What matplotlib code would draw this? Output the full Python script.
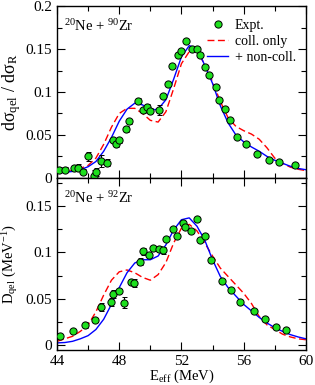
import numpy as np
import matplotlib
matplotlib.use("Agg")
import matplotlib.pyplot as plt
from matplotlib.lines import Line2D
from matplotlib.ticker import MultipleLocator, FuncFormatter

plt.rcParams["font.family"] = ["Liberation Serif", "DejaVu Serif"]
plt.rcParams["mathtext.fontset"] = "custom"
plt.rcParams["mathtext.rm"] = "Liberation Serif"
plt.rcParams["mathtext.it"] = "Liberation Serif:italic"

# %% data: 20Ne + 90Zr (quasi-elastic ratio)
e_90 = [44.15, 44.5, 45.1, 45.35, 45.7, 46.0, 46.35, 46.5, 46.84, 47.2, 47.57, 47.8,
        48.0, 48.43, 48.65, 49.2, 49.5, 49.8, 49.98, 50.58, 50.8, 51.16, 51.37, 51.8,
        52.0, 52.3, 52.65, 53.0, 53.2, 53.5, 53.8, 54.2, 54.4, 54.77, 55.14, 55.6,
        56.17, 56.88, 57.6, 58.28, 59.3]
sig_90 = [0.0097, 0.0097, 0.0116, 0.0116, 0.007, 0.025, 0.0027, 0.007, 0.020, 0.0178,
          0.044, 0.040, 0.044, 0.057, 0.066, 0.090, 0.079, 0.083, 0.078, 0.079, 0.095,
          0.109, 0.130, 0.143, 0.148, 0.159, 0.150, 0.150, 0.143, 0.129, 0.120, 0.106,
          0.091, 0.080, 0.067, 0.048, 0.039, 0.028, 0.021, 0.019, 0.015]
err_90 = [0.003, 0.003, 0.003, 0.004, 0.003, 0.005, 0.006, 0.005, 0.007, 0.004,
          0.003, 0.004, 0.003, 0.003, 0.003, 0.003, 0.003, 0.003, 0.003, 0.006, 0.002,
          0.002, 0.002, 0.002, 0.002, 0.002, 0.002, 0.002, 0.002, 0.002, 0.002, 0.002,
          0.002, 0.002, 0.002, 0.002, 0.002, 0.002, 0.002, 0.002, 0.002]

e_th = np.arange(44.0, 60.01, 0.5)
coll_90 = [0.006, 0.007, 0.0085, 0.011, 0.0145, 0.023, 0.039, 0.059, 0.075, 0.081,
           0.081, 0.075, 0.067, 0.065, 0.077, 0.104, 0.133, 0.147, 0.148, 0.132, 0.112,
           0.089, 0.070, 0.060, 0.055, 0.051, 0.045, 0.035, 0.023, 0.017, 0.0125, 0.010,
           0.0085]
full_90 = [0.0058, 0.0065, 0.0075, 0.0095, 0.013, 0.019, 0.031, 0.047, 0.066, 0.080,
           0.087, 0.085, 0.079, 0.080, 0.091, 0.115, 0.141, 0.154, 0.151, 0.131, 0.110,
           0.084, 0.064, 0.050, 0.042, 0.036, 0.031, 0.025, 0.0205, 0.017, 0.0135, 0.011,
           0.0095]

# %% data: 20Ne + 92Zr (barrier distribution)
e_92 = [44.2, 45.03, 45.8, 46.43, 46.8, 47.46, 47.6, 47.98, 48.28, 48.75, 48.92, 49.35,
        49.55, 49.9, 50.2, 50.54, 50.84, 51.0, 51.44, 51.72, 52.08, 52.24, 52.62, 52.99,
        53.2, 53.5, 53.9, 54.6, 55.2, 55.74, 56.66, 57.35, 58.1, 58.75]
d_92 = [0.0097, 0.0158, 0.022, 0.027, 0.041, 0.0466, 0.055, 0.058, 0.046, 0.0685,
        0.067, 0.090, 0.101, 0.097, 0.105, 0.1036, 0.102, 0.114, 0.125, 0.117, 0.132,
        0.127, 0.123, 0.136, 0.113, 0.117, 0.092, 0.069, 0.059, 0.047, 0.037, 0.028,
        0.020, 0.016]
err_92 = [0.002, 0.002, 0.003, 0.002, 0.004, 0.004, 0.004, 0.002, 0.006, 0.003,
          0.004, 0.004, 0.004, 0.002, 0.002, 0.003, 0.004, 0.002, 0.002, 0.002, 0.002,
          0.002, 0.002, 0.002, 0.002, 0.002, 0.002, 0.002, 0.002, 0.002, 0.002, 0.002,
          0.002, 0.002]

coll_92 = [0.0043, 0.007, 0.0097, 0.015, 0.022, 0.036, 0.054, 0.070, 0.079, 0.081,
           0.078, 0.073, 0.070, 0.076, 0.089, 0.110, 0.126, 0.130, 0.123, 0.110, 0.096,
           0.083, 0.074, 0.065, 0.056, 0.045, 0.031, 0.022, 0.017, 0.012, 0.009, 0.007,
           0.006]
full_92 = [0.0026, 0.003, 0.0043, 0.007, 0.0104, 0.017, 0.028, 0.044, 0.062, 0.078,
           0.0885, 0.092, 0.092, 0.096, 0.108, 0.124, 0.135, 0.137, 0.128, 0.113, 0.092,
           0.074, 0.062, 0.053, 0.044, 0.037, 0.030, 0.024, 0.019, 0.015, 0.0115, 0.009,
           0.007]

# %% plot
fig = plt.figure(figsize=(3.15, 3.85), dpi=100)
ax1 = fig.add_axes([0.181, 0.538, 0.79, 0.446])
ax2 = fig.add_axes([0.181, 0.091, 0.79, 0.447])

green = "#1ee01e"
mk = dict(fmt="o", ms=5.2, mfc=green, mec="black", mew=0.7, ecolor="black",
          elinewidth=0.8, capsize=1.8, capthick=0.8, zorder=3)

for ax, e, v, err, coll, full in [(ax1, e_90, sig_90, err_90, coll_90, full_90),
                                   (ax2, e_92, d_92, err_92, coll_92, full_92)]:
    ax.errorbar(e, v, yerr=err, **mk)
    ax.plot(e_th, coll, color="red", ls=(0, (5, 2.5)), lw=1.0)
    ax.plot(e_th, full, color="blue", lw=1.0)
    ax.set_xlim(44, 60)
    ax.xaxis.set_major_locator(MultipleLocator(4))
    ax.xaxis.set_minor_locator(MultipleLocator(2))
    ax.yaxis.set_major_locator(MultipleLocator(0.05))
    ax.yaxis.set_minor_locator(MultipleLocator(0.025))
    ax.yaxis.set_major_formatter(FuncFormatter(lambda y, p: "%g" % round(y, 3)))
    ax.tick_params(which="both", direction="in", top=True, right=True, labelsize=11)
    ax.tick_params(which="major", length=6, width=0.8)
    ax.tick_params(which="minor", length=3.5, width=0.8)
    for s in ax.spines.values():
        s.set_linewidth(1.0)

ax1.set_ylim(0, 0.2)
ax1.tick_params(labelbottom=False)
ax2.set_ylim(-0.005, 0.18)

ax1.set_ylabel(r"dσ$_{\rm qel}$ / dσ$_{\rm R}$", fontsize=13, labelpad=2)
ax2.set_ylabel(r"D$_{\rm qel}$ (MeV$^{-1}$)", fontsize=10.5, labelpad=4)
ax2.set_xlabel(r"E$_{\rm eff}$ (MeV)", fontsize=10.5, labelpad=0)

ax1.text(0.03, 0.93, r"$^{20}$Ne + $^{90}$Zr", transform=ax1.transAxes, fontsize=10.5,
         va="top")
ax2.text(0.03, 0.93, r"$^{20}$Ne + $^{92}$Zr", transform=ax2.transAxes, fontsize=10.5,
         va="top")

handles = [
    Line2D([], [], ls="none", marker="o", ms=5.2, mfc=green, mec="black", mew=0.7),
    Line2D([], [], color="red", ls=(0, (5, 2.5)), lw=1.0),
    Line2D([], [], color="blue", lw=1.0),
]
ax1.legend(handles, ["Expt.", "coll. only", "+ non-coll."], loc="upper right",
           frameon=False, fontsize=10, handlelength=1.5, handletextpad=0.5,
           labelspacing=0.2, borderaxespad=0.3, bbox_to_anchor=(1.0, 0.98))

fig.savefig("out.png", dpi=100)
